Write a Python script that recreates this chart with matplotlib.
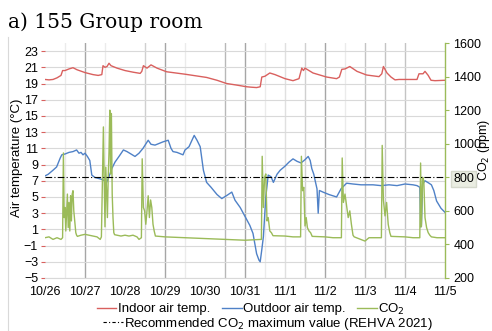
import matplotlib
matplotlib.use('Agg')
import matplotlib.pyplot as plt
from matplotlib.lines import Line2D

plt.rcParams['font.family'] = ['Liberation Sans', 'DejaVu Sans']

# eixo x: dias desde 10/26 00:00
day_labels = ['10/26', '10/27', '10/28', '10/29', '10/30', '10/31',
              '11/1', '11/2', '11/3', '11/4', '11/5']

# temperatura interna (dia, °C)
in_t = [0.0, 0.1, 0.2, 0.3, 0.4, 0.44, 0.5, 0.6, 0.7, 0.8, 1.0, 1.2, 1.33, 1.42,
        1.45, 1.5, 1.55, 1.6, 1.65, 1.8, 2.0, 2.2, 2.38, 2.42, 2.46, 2.55, 2.65,
        2.8, 3.04, 3.5, 4.04, 4.3, 4.54, 4.8, 5.04, 5.15, 5.29, 5.38, 5.42, 5.5,
        5.62, 5.75, 6.0, 6.2, 6.35, 6.42, 6.46, 6.5, 6.7, 7.04, 7.29, 7.36, 7.42,
        7.5, 7.62, 7.8, 8.04, 8.35, 8.42, 8.46, 8.55, 8.65, 8.75, 8.85, 9.0, 9.3,
        9.35, 9.45, 9.5, 9.58, 9.65, 9.75, 10.0]
in_v = [19.5, 19.45, 19.5, 19.7, 20.0, 20.6, 20.6, 20.8, 20.95, 20.7, 20.35, 20.1,
        20.0, 20.1, 21.2, 21.0, 21.1, 21.5, 21.2, 20.9, 20.6, 20.4, 20.25, 20.5,
        21.2, 20.9, 21.3, 20.9, 20.45, 20.15, 19.75, 19.4, 19.0, 18.8, 18.6, 18.55,
        18.5, 18.6, 19.8, 19.9, 20.3, 20.1, 19.6, 19.35, 19.6, 20.9, 20.6, 20.9,
        20.3, 19.8, 19.6, 19.8, 20.75, 20.8, 21.1, 20.5, 20.05, 19.85, 20.2, 21.1,
        20.3, 19.8, 19.45, 19.5, 19.5, 19.5, 20.2, 20.2, 20.5, 20.0, 19.4, 19.35, 19.4]

# temperatura externa (dia, °C)
out_t = [0.0, 0.08, 0.2, 0.29, 0.38, 0.42, 0.5, 0.6, 0.7, 0.79, 0.85, 0.9, 0.95,
         1.0, 1.06, 1.12, 1.17, 1.25, 1.4, 1.5, 1.54, 1.6, 1.67, 1.75, 1.85, 1.96,
         2.05, 2.15, 2.25, 2.35, 2.45, 2.58, 2.65, 2.75, 2.85, 2.95, 3.08, 3.15,
         3.2, 3.3, 3.45, 3.5, 3.6, 3.73, 3.8, 3.88, 3.96, 4.04, 4.15, 4.3, 4.42,
         4.55, 4.67, 4.75, 4.88, 5.0, 5.12, 5.2, 5.29, 5.35, 5.38, 5.42, 5.46, 5.52,
         5.58, 5.65, 5.71, 5.8, 5.88, 6.0, 6.1, 6.2, 6.3, 6.4, 6.5, 6.58, 6.63, 6.67,
         6.72, 6.75, 6.8, 6.83, 6.86, 6.95, 7.1, 7.29, 7.4, 7.54, 7.7, 7.9, 8.2, 8.4,
         8.6, 8.8, 9.0, 9.2, 9.3, 9.37, 9.39, 9.41, 9.44, 9.5, 9.6, 9.66, 9.72,
         9.79, 9.9, 10.0]
out_v = [7.6, 7.8, 8.3, 8.7, 9.8, 10.2, 10.3, 10.5, 10.6, 10.8, 10.4, 10.5, 10.2,
         10.4, 10.0, 9.5, 7.7, 7.4, 7.2, 7.0, 6.8, 7.5, 8.5, 9.3, 10.0, 10.8, 10.6,
         10.3, 10.0, 10.4, 11.0, 12.0, 11.5, 11.4, 11.6, 11.8, 12.0, 11.0, 10.6,
         10.5, 10.2, 10.8, 11.2, 12.6, 12.0, 11.2, 8.3, 6.8, 6.2, 5.3, 4.8, 5.2, 5.6,
         4.6, 3.7, 2.6, 1.5, 0.5, -2.0, -2.8, -3.0, -1.5, 0.1, 5.0, 7.7, 7.5, 6.8,
         7.8, 8.3, 8.8, 9.3, 9.7, 9.4, 9.2, 9.6, 10.0, 9.5, 8.5, 7.8, 7.1, 6.0, 3.0,
         5.8, 5.6, 5.3, 5.0, 6.0, 6.7, 6.6, 6.5, 6.5, 6.4, 6.5, 6.4, 6.6, 6.5, 6.4,
         6.2, 1.3, 1.5, 6.6, 7.0, 6.7, 6.5, 5.8, 4.5, 3.6, 3.1]

# CO2 (dia, ppm)
co2_t = [0.0, 0.1, 0.2, 0.3, 0.4, 0.44,
         0.46, 0.48, 0.5, 0.52, 0.54, 0.56, 0.58, 0.6, 0.62, 0.64, 0.66, 0.68,
         0.7, 0.72, 0.75, 0.77, 0.79, 0.81,
         0.9, 1.0, 1.1, 1.2, 1.3, 1.38, 1.41,
         1.43, 1.46, 1.48, 1.5, 1.52, 1.54, 1.56, 1.58, 1.6, 1.62, 1.64, 1.66,
         1.68, 1.7, 1.72, 1.74,
         1.9, 2.0, 2.1, 2.2, 2.3, 2.35, 2.41,
         2.43, 2.46, 2.49, 2.52, 2.55, 2.58, 2.61, 2.64, 2.67, 2.7, 2.73, 2.76,
         3.0, 3.5, 4.0, 4.5, 5.0, 5.41,
         5.43, 5.46, 5.49, 5.52, 5.55, 5.58, 5.62, 5.66, 5.7,
         6.0, 6.2, 6.39, 6.41, 6.44, 6.47, 6.5, 6.53, 6.56, 6.6, 6.64, 6.68,
         7.0, 7.2, 7.41, 7.43, 7.46, 7.5, 7.54, 7.58, 7.62, 7.66, 7.7, 7.73,
         8.0, 8.1, 8.2, 8.41, 8.43, 8.46, 8.5, 8.54, 8.58, 8.62, 8.65,
         9.0, 9.2, 9.37, 9.39, 9.41, 9.44, 9.47, 9.5, 9.54, 9.58, 9.62, 9.66,
         9.8, 10.0]
co2_v = [440, 445, 430, 440, 430, 440,
         945, 560, 620, 480, 590, 700, 500, 650, 480, 690, 540, 700,
         720, 600, 520, 470, 455, 448,
         455, 460, 455, 450, 445, 430, 445,
         720, 1100, 780, 505, 860, 700, 560, 800, 950, 1200, 820, 1180,
         700, 560, 470, 458,
         450, 455, 450, 455, 445, 430, 440,
         910, 620, 600, 520, 600, 690, 560, 665, 620, 520, 480, 450,
         445, 440, 435, 430, 425, 430,
         925, 620, 800, 820, 540, 560, 480, 470, 452,
         450, 445, 445, 925, 720, 740, 510, 560, 500, 480, 470, 448,
         445, 440, 440, 915, 650, 700, 630, 560, 600, 520, 455, 445,
         420, 440, 440, 440, 990, 665, 570, 650, 520, 470, 448,
         445, 440, 440, 885, 505, 800, 780, 560, 500, 470, 455, 445,
         440, 440]

co2_limit = 800

red = '#D9605E'
blue = '#4F81C7'
green = '#9BBB59'

fig = plt.figure(figsize=(4.92, 3.31), dpi=100)
ax1 = fig.add_axes([45 / 492, 1 - 278 / 331, 400 / 492, 235 / 331])
ax2 = ax1.twinx()

# linhas verticais de grade (claras e escuras)
vlines = [(0.5, '#EBEBEB'), (1.0, '#A6A6A6'), (1.5, '#EBEBEB'), (2.5, '#D0D0D0'),
          (3.0, '#A6A6A6'), (3.5, '#EBEBEB'), (4.5, '#B8B8B8'), (5.0, '#A6A6A6'),
          (5.5, '#EBEBEB'), (6.0, '#E0E0E0'), (6.5, '#D0D0D0'), (7.0, '#A6A6A6'),
          (7.5, '#EBEBEB'), (8.0, '#C4C4C4'), (8.5, '#C4C4C4'), (9.0, '#C4C4C4')]
for xv, c in vlines:
    ax1.axvline(xv, color=c, lw=1.0, zorder=0)

ax1.plot(in_t, in_v, color=red, lw=1.0, label='Indoor air temp.')
ax1.plot(out_t, out_v, color=blue, lw=1.0, label='Outdoor air temp.')
ax2.plot(co2_t, co2_v, color=green, lw=1.0, label='CO$_2$')
ax2.axhline(co2_limit, color='black', lw=0.8, linestyle=(0, (6, 2, 1, 2)))

ax1.set_xlim(0, 10)
ax1.set_ylim(-5, 24)
ax2.set_ylim(200, 1600)
ax1.set_xticks(range(11))
ax1.set_xticklabels(day_labels)
ax1.set_yticks(range(-5, 24, 2))
ax2.set_yticks(range(200, 1601, 200))
ax1.grid(axis='y', color='#D9D9D9', lw=0.8)
ax1.set_axisbelow(True)

ax1.tick_params(axis='x', length=0, labelsize=9, pad=6)
ax1.tick_params(axis='y', length=3, color=red, labelsize=9, pad=2)
ax2.tick_params(axis='y', length=3, color=green, labelsize=9, pad=3)

for s in ['left', 'top', 'right']:
    ax1.spines[s].set_visible(False)
ax1.spines['bottom'].set_color('#D9D9D9')
for s in ['left', 'top', 'bottom']:
    ax2.spines[s].set_visible(False)
ax2.spines['right'].set_color(green)
ax2.spines['right'].set_linewidth(1.0)

for lab in ax2.get_yticklabels():
    if lab.get_text() == '800':
        lab.set_bbox(dict(facecolor='#EAEDE2', edgecolor='#D5D8CC', pad=1.5))

ax1.set_ylabel('Air temperature (°C)', fontsize=9.5)
ax1.yaxis.set_label_coords(-0.055, 0.51)
ax2.set_ylabel('CO$_2$ (ppm)', fontsize=9)
ax2.yaxis.set_label_coords(1.078, 0.545)

h1 = [Line2D([], [], color=red, lw=1.0), Line2D([], [], color=blue, lw=1.0),
      Line2D([], [], color=green, lw=1.0)]
fig.legend(h1, ['Indoor air temp.', 'Outdoor air temp.', 'CO$_2$'],
           loc='center', bbox_to_anchor=(251 / 492, 1 - 309 / 331), ncol=3,
           frameon=False, fontsize=9.5, handlelength=1.5, handletextpad=0.1,
           columnspacing=0.9, borderpad=0)
h2 = [Line2D([], [], color='black', lw=0.8, linestyle=(0, (3, 2, 1, 2)))]
fig.legend(h2, ['Recommended CO$_2$ maximum value (REHVA 2021)'],
           loc='center', bbox_to_anchor=(268 / 492, 1 - 324 / 331),
           frameon=False, fontsize=9.5, handlelength=1.5, handletextpad=0.1,
           borderpad=0)

fig.text(8 / 492, 1 - 28 / 331, 'a) 155 Group room', family='DejaVu Serif',
         fontsize=14.5, ha='left', va='baseline')
fig.add_artist(Line2D([8 / 492, 8 / 492], [0, 1 - 37 / 331], color='#D9D9D9',
                      lw=0.8))

plt.savefig('out.png', dpi=100)
